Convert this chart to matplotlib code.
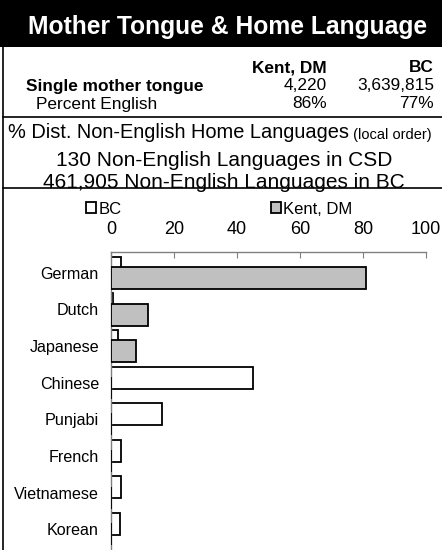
import numpy as np
import matplotlib
matplotlib.use("Agg")
import matplotlib.pyplot as plt
from matplotlib.lines import Line2D

plt.rcParams['font.family'] = ['Liberation Sans', 'DejaVu Sans']

# chart data (percent of non-English home languages)
languages = ['German', 'Dutch', 'Japanese', 'Chinese', 'Punjabi', 'French', 'Vietnamese', 'Korean']
bc_pct = [3.2, 0.7, 2.1, 45.0, 16.3, 3.2, 3.2, 3.0]
kent_pct = [81.0, 11.8, 7.8, 0.0, 0.0, 0.0, 0.0, 0.0]
x_ticks = [0, 20, 40, 60, 80, 100]

# header table
col_names = ['Kent, DM', 'BC']
single_mt = ['4,220', '3,639,815']
pct_english = ['86%', '77%']
n_csd = '130'
n_bc = '461,905'

W, H = 442, 550
fig = plt.figure(figsize=(W / 100, H / 100), dpi=100)


def fx(px):
    return px / W


def fy(py):
    return 1 - py / H


# black title band
fig.patches.append(plt.Rectangle((0, fy(47)), 1, 47 / H, transform=fig.transFigure,
                                 facecolor='black', edgecolor='none'))
fig.text(fx(228), fy(27), 'Mother Tongue & Home Language', color='white',
         fontsize=17.7, fontweight='bold', ha='center', va='center')

# border lines
fig.add_artist(Line2D([fx(3), fx(3)], [fy(47), 0], color='black', lw=1.2))
fig.add_artist(Line2D([fx(3), 1], [fy(117), fy(117)], color='black', lw=1.2))
fig.add_artist(Line2D([fx(3), 1], [fy(188), fy(188)], color='black', lw=1.2))

# table
fs = 12.4
c1, c2 = 327, 434
fig.text(fx(c1), fy(68), col_names[0], fontsize=fs, fontweight='bold', ha='right', va='center')
fig.text(fx(c2), fy(68), col_names[1], fontsize=fs, fontweight='bold', ha='right', va='center')
fig.text(fx(26), fy(86), 'Single mother tongue', fontsize=fs, fontweight='bold', ha='left', va='center')
fig.text(fx(c1), fy(86), single_mt[0], fontsize=fs, ha='right', va='center')
fig.text(fx(c2), fy(86), single_mt[1], fontsize=fs, ha='right', va='center')
fig.text(fx(36), fy(104), 'Percent English', fontsize=fs, ha='left', va='center')
fig.text(fx(c1), fy(104), pct_english[0], fontsize=fs, ha='right', va='center')
fig.text(fx(c2), fy(104), pct_english[1], fontsize=fs, ha='right', va='center')

t = fig.text(fx(8), fy(138), '% Dist. Non-English Home Languages', fontsize=14.4,
             ha='left', va='baseline')
fig.text(fx(224), fy(160), f'{n_csd} Non-English Languages in CSD', fontsize=15,
         ha='center', va='center')
fig.text(fx(224), fy(183), f'{n_bc} Non-English Languages in BC', fontsize=15,
         ha='center', va='center')

# bar chart
ax = fig.add_axes([fx(111), 0, fx(426) - fx(111), (H - 252) / H])
ax.annotate(' (local order)', xy=(1, 0), xycoords=t, fontsize=10.5, ha='left', va='bottom',
            annotation_clip=False)

y = np.arange(len(languages))
h = 0.6
off = 0.14
b_bc = ax.barh(y - off, bc_pct, height=h, color='white', edgecolor='black', lw=1.3,
               label='BC', zorder=2)
b_kent = ax.barh(y + off, kent_pct, height=h, color='#c0c0c0', edgecolor='black', lw=1.3,
                 label='Kent, DM', zorder=3)

ax.set_xlim(0, 100)
ax.set_ylim(7.57, -0.57)
ax.set_xticks(x_ticks)
ax.xaxis.tick_top()
ax.tick_params(axis='x', direction='in', length=4, color='gray', labelsize=13, pad=10)
ax.set_yticks(y)
ax.set_yticklabels(languages)
ax.tick_params(axis='y', length=0, labelsize=11.6, pad=8.7)
for s in ['right', 'bottom']:
    ax.spines[s].set_visible(False)
for s in ['top', 'left']:
    ax.spines[s].set_color('gray')
    ax.spines[s].set_linewidth(1)

fig.legend(handles=[b_bc, b_kent], loc='center left', bbox_to_anchor=(fx(86), fy(209)),
           ncol=2, frameon=False, fontsize=12, handlelength=0.6, handleheight=0.6,
           handletextpad=0.15, columnspacing=8.95, borderaxespad=0, borderpad=0)

fig.savefig('out.png', dpi=100)
